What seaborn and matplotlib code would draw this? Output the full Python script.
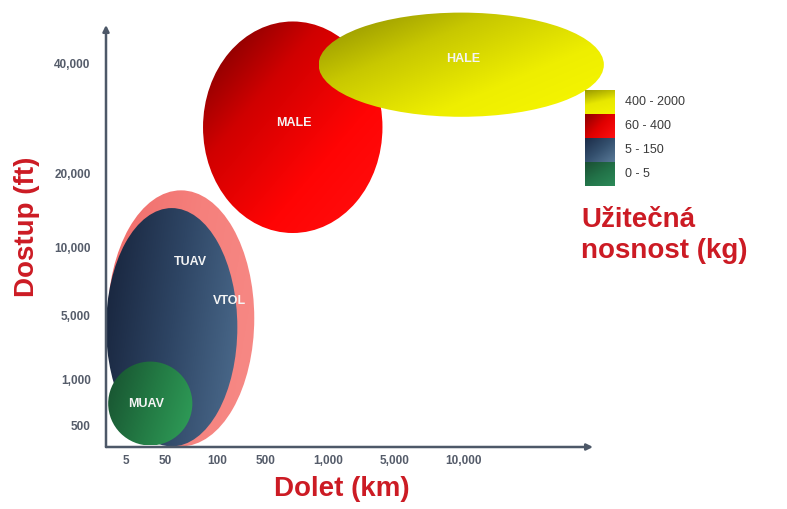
import numpy as np
import matplotlib
matplotlib.use("Agg")
import matplotlib.pyplot as plt
from matplotlib.patches import Ellipse
import seaborn as sns

# axis ticks (the scale of the drawing is irregular)
x_tick_vals = [5, 50, 100, 500, 1000, 5000, 10000]
x_tick_labels = ["5", "50", "100", "500", "1,000", "5,000", "10,000"]
y_tick_vals = [500, 1000, 5000, 10000, 20000, 40000]
y_tick_labels = ["500", "1,000", "5,000", "10,000", "20,000", "40,000"]

# UAV classes: range (km) and ceiling (ft) envelopes, back to front
classes = ["VTOL", "TUAV", "MUAV", "MALE", "HALE"]
range_lo = [1.7, 1.55, 1.75, 83, 900]
range_hi = [340, 195, 72, 3700, 42000]
alt_lo = [370, 370, 375, 11400, 28500]
alt_hi = [17000, 14400, 1550, 52000, 55000]
label_range = [150, 70, 16, 680, 10000]
label_alt = [5760, 8600, 690, 27400, 41000]

payload_labels = ["400 - 2000", "60 - 400", "5 - 150", "0 - 5"]

# colours: gradient start/end and direction (dx, dy) per class
class_colors = {
    "VTOL": (["#f06c6a", "#f5807c", "#f78a86"], (1.0, 0.3)),
    "TUAV": (["#16223a", "#2e4564", "#4d6d8f"], (1.0, 0.25)),
    "MUAV": (["#17502f", "#237a44", "#30a05a"], (1.0, 0.3)),
    "MALE": (["#6a0000", "#d00000", "#ff0404", "#ff1010"], (0.7, 0.7)),
    "HALE": (["#8a8a00", "#c8c800", "#eeee00", "#f8f800"], (0.75, 0.65)),
}
legend_colors = [
    (["#9a9a00", "#e8e800", "#f4f400"], (0.3, 1.0)),
    (["#8a0000", "#e00000", "#ff1010"], (0.8, 0.6)),
    (["#1c2c48", "#34506e", "#5a7a98"], (0.7, 0.7)),
    (["#1a4e32", "#227248", "#2c8a58"], (0.6, 0.8)),
]

# where the irregular ticks sit in the drawing (px from left / px from top)
x_anchor_vals = [1, 5, 50, 100, 500, 1000, 5000, 10000, 100000]
x_anchor_px = [98.7, 126, 165, 217, 266, 328, 395, 463, 689]
y_anchor_vals = [100, 500, 1000, 5000, 10000, 20000, 40000, 100000]
y_anchor_px = [535, 426, 379, 315, 247, 173, 63, -82]


def to_x(v):
    return np.interp(np.log10(v), np.log10(x_anchor_vals), x_anchor_px)


def to_y(v):
    return np.interp(np.log10(v), np.log10(y_anchor_vals), y_anchor_px)


def gradient_fill(ax, x0, x1, y_top, y_bot, colors, direction, z, clip_shape="ellipse"):
    u, v = np.meshgrid(np.linspace(0, 1, 200), np.linspace(0, 1, 200))
    t = u * direction[0] + v * direction[1]
    t = (t - t.min()) / (t.max() - t.min())
    cmap = sns.blend_palette(colors, as_cmap=True)
    im = ax.imshow(t, cmap=cmap, extent=(x0, x1, y_bot, y_top), origin="upper",
                   aspect="auto", zorder=z, interpolation="bilinear")
    if clip_shape == "ellipse":
        ell = Ellipse(((x0 + x1) / 2, (y_top + y_bot) / 2), x1 - x0, y_bot - y_top,
                      transform=ax.transData)
        im.set_clip_path(ell)
        im.set_clip_box(ax.figure.bbox)
    return im


sns.set_theme(style="white")
plt.rcParams["font.family"] = ["Liberation Sans", "DejaVu Sans"]

fig = plt.figure(figsize=(7.87, 5.09), dpi=100)
fig.patch.set_facecolor("white")
W, H = 787, 509
ax = fig.add_axes([106 / W, 62 / H, (593 - 106) / W, (447 - 25) / H])
ax.set_facecolor("none")

for i, name in enumerate(classes):
    cols, d = class_colors[name]
    gradient_fill(ax, to_x(range_lo[i]), to_x(range_hi[i]),
                  to_y(alt_hi[i]), to_y(alt_lo[i]), cols, d, z=2 + i)
    ax.text(to_x(label_range[i]), to_y(label_alt[i]), name, color="#f4f4f4",
            fontsize=9, fontweight="bold", ha="center", va="center",
            zorder=10, clip_on=False)

ax.set_xlim(106, 593)
ax.set_ylim(447, 25)

# axes with arrow heads
for sp in ax.spines.values():
    sp.set_visible(False)
axis_col = "#4d5868"
ax.annotate("", xy=(1, 0), xytext=(0, 0), xycoords="axes fraction",
            arrowprops=dict(arrowstyle="-|>", color=axis_col, lw=1.8,
                            mutation_scale=9, shrinkA=0, shrinkB=0), zorder=12)
ax.annotate("", xy=(0, 1), xytext=(0, 0), xycoords="axes fraction",
            arrowprops=dict(arrowstyle="-|>", color=axis_col, lw=1.8,
                            mutation_scale=9, shrinkA=0, shrinkB=0), zorder=12)

ax.set_xticks(to_x(x_tick_vals), x_tick_labels)
ax.set_yticks(to_y(y_tick_vals), y_tick_labels)
ax.tick_params(axis="both", length=0, labelsize=8.5, labelcolor="#555c6a")
ax.tick_params(axis="x", pad=6)
ax.tick_params(axis="y", pad=11)
for lbl in ax.get_xticklabels() + ax.get_yticklabels():
    lbl.set_fontweight("bold")

title_red = "#cc1b24"
ax.set_xlabel("Dolet (km)", fontsize=20, fontweight="bold", color=title_red)
ax.xaxis.set_label_coords((342 - 106) / 487, -(476 - 447) / 422)
ax.set_ylabel("Dostup (ft)", fontsize=20, fontweight="bold", color=title_red)
ax.yaxis.set_label_coords((40 - 106) / 487, (447 - 227) / 422)

# payload legend
leg = fig.add_axes([585 / W, 1 - 186 / H, 30 / W, 96 / H])
for k, (cols, d) in enumerate(legend_colors):
    gradient_fill(leg, 0, 1, k, k + 1, cols, d, z=2, clip_shape=None)
    leg.text(1.33, k + 0.5, payload_labels[k], fontsize=9, color="#3a3a3a",
             ha="left", va="center", clip_on=False)
leg.set_xlim(0, 1)
leg.set_ylim(4, 0)
leg.axis("off")

fig.text(581 / W, 1 - 227 / H, "Užitečná", fontsize=20, fontweight="bold",
         color=title_red, ha="left", va="baseline")
fig.text(581 / W, 1 - 258 / H, "nosnost (kg)", fontsize=20, fontweight="bold",
         color=title_red, ha="left", va="baseline")

fig.savefig("out.png", dpi=100, facecolor="white")
